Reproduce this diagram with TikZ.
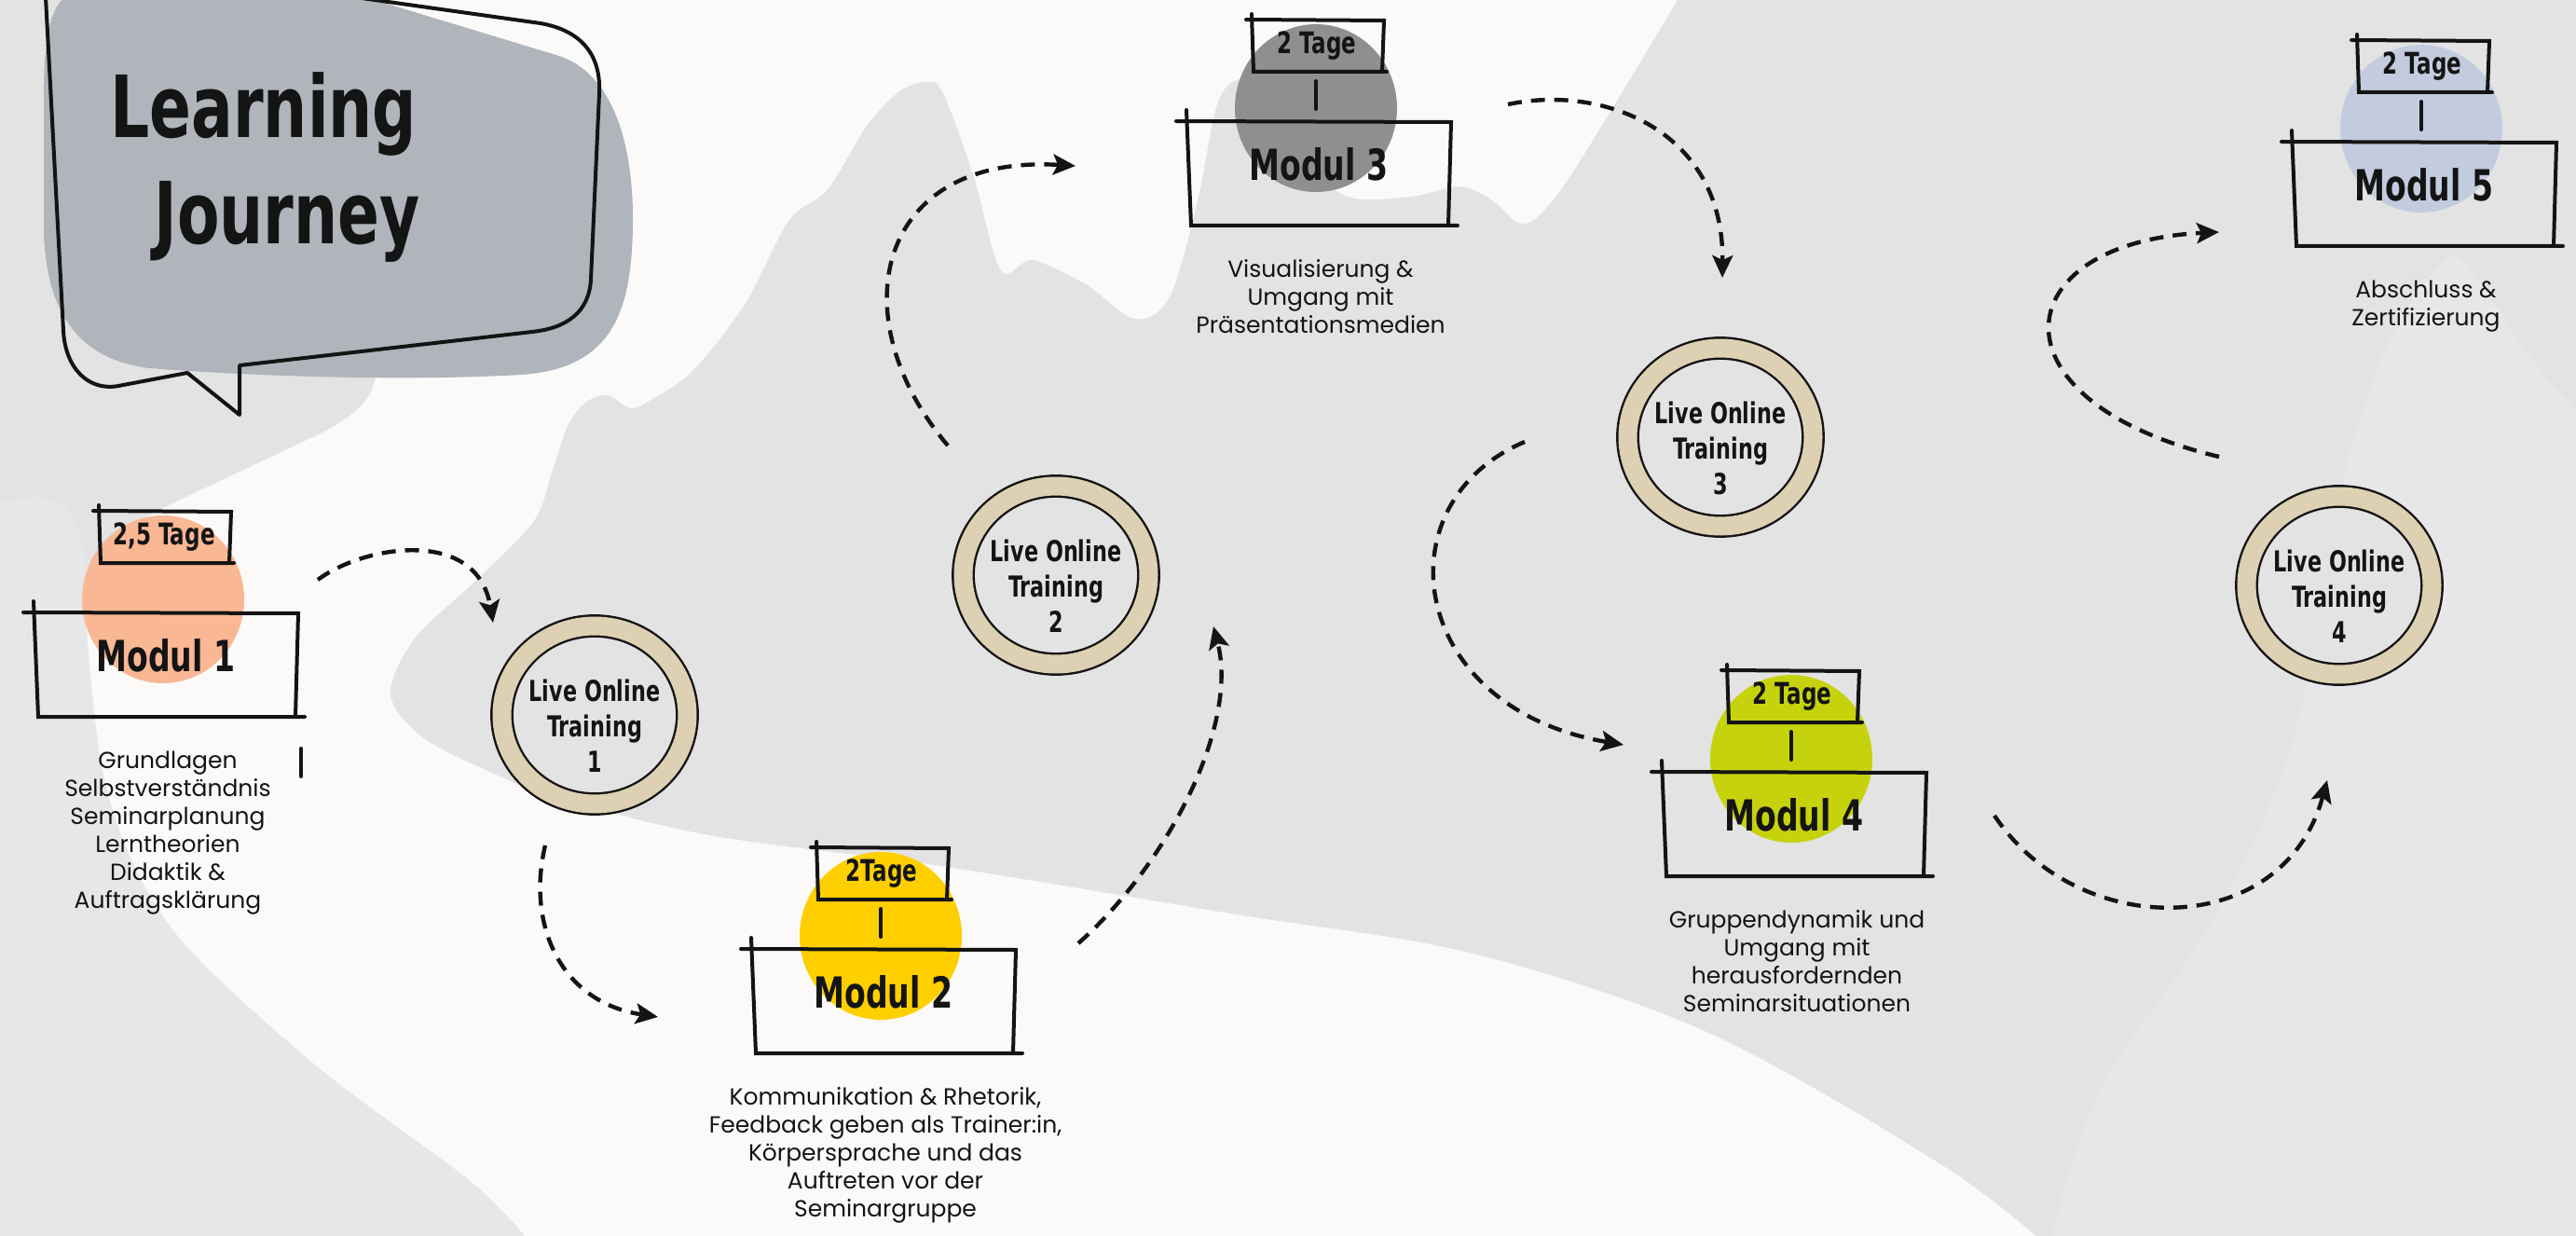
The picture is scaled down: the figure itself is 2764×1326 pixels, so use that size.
\documentclass[tikz,border=0pt]{standalone}
\usepackage{fontspec}
\setmainfont{Poppins}
\newfontfamily\handfont[FakeStretch=0.72]{DejaVu Sans}
\usetikzlibrary{arrows.meta,shapes.geometric,calc}

\definecolor{bggray}{HTML}{E3E3E3}
\definecolor{paper}{HTML}{FBFAF8}
\definecolor{paleright}{HTML}{E7E7E9}
\definecolor{paleleft}{HTML}{E6E7E9}
\definecolor{bubblegray}{HTML}{AFB5BB}
\definecolor{modpeach}{HTML}{F9B794}
\definecolor{modyellow}{HTML}{FFCF00}
\definecolor{modstone}{HTML}{8F8F8F}
\definecolor{modlime}{HTML}{C6D30C}
\definecolor{modsky}{HTML}{C3CCDF}
\definecolor{sand}{HTML}{DDD0B3}
\definecolor{ink}{HTML}{141414}

\tikzset{
  sketchline/.style={ink,line width=2pt,line cap=round},
  flowarrow/.style={ink,line width=2.2pt,dash pattern=on 7.5pt off 5pt,
    -{Stealth[length=12pt,width=11pt,inset=2.5pt]}},
  ringnode/.style={ellipse,draw=ink,line width=1.2pt,double=sand,double distance=10pt,
    fill=bggray,minimum width=99.5pt,minimum height=95.5pt,inner sep=0pt},
  lottext/.style={align=center,inner sep=0pt,text=ink,
    font=\handfont\bfseries\fontsize{15.5}{19}\selectfont},
  modtitle/.style={text=ink,inner sep=0pt,font=\handfont\bfseries\fontsize{23}{26}\selectfont},
  tagetext/.style={text=ink,inner sep=0pt,font=\handfont\bfseries\fontsize{16}{18}\selectfont},
  desctext/.style={align=center,anchor=north,inner sep=0pt,text=ink,
    font=\fontsize{12.5}{15}\selectfont},
  titletext/.style={anchor=base west,inner sep=0pt,text=ink,
    font=\handfont\bfseries\fontsize{46}{50}\selectfont},
}

\begin{document}
\begin{tikzpicture}[x=0.5pt,y=-0.5pt]
  \useasboundingbox (0,0) rectangle (2764,1326);
  \clip (0,0) rectangle (2764,1326);
  % background
  \fill[bggray] (0,0) rectangle (2764,1326);
  \fill[paleleft] (0,540) .. controls (30,530) and (60,530) .. (75,550)
    .. controls (90,575) and (95,610) .. (97,640) -- (95,700)
    -- plot[smooth,tension=.55] coordinates {(95,700) (118,860) (186,998) (338,1142) (507,1269) (575,1340)}
    -- (0,1340) -- cycle;
  \fill[paper] (406,0) -- (1800,0)
    -- plot[smooth,tension=.55] coordinates {(1800,0) (1700,165) (1660,222) (1632,240)
      (1600,214) (1566,200) (1520,210) (1470,214) (1440,208) (1395,175) (1350,100)
      (1326,86) (1305,115) (1285,215) (1255,318) (1218,342) (1165,305) (1108,279)
      (1074,290) (1045,190) (1012,100) (994,88) (965,98) (930,135) (888,203) (846,237)
      (800,325) (744,397) (700,428) (677,438) (652,424) (628,432) (609,457) (592,507)
      (572,560) (507,626) (445,685) (419,745) (455,792) (530,830) (592,854) (761,896)
      (1015,930) (1326,981) (1580,1023) (1833,1108) (2087,1252) (2200,1340)}
    -- (575,1340)
    -- plot[smooth,tension=.55] coordinates {(575,1340) (507,1269) (338,1142) (186,998)
      (118,860) (95,700) (97,630) (125,575) (200,533)}
    -- (340,467) .. controls (380,447) and (400,430) .. (404,400) -- (406,390) -- cycle;
  \fill[paleright] (2633,271) .. controls (2670,300) and (2700,380) .. (2764,440)
    -- (2764,1340) -- (2200,1340) .. controls (2230,1180) and (2280,1120) .. (2320,1070)
    .. controls (2420,930) and (2470,800) .. (2490,650)
    .. controls (2510,480) and (2560,330) .. (2633,271) -- cycle;

  % speech bubble
  \fill[bubblegray] (67,0) -- (402,0) -- (600,60) .. controls (660,80) and (680,160) .. (679,240)
    .. controls (678,330) and (660,395) .. (560,402) .. controls (420,410) and (250,402) .. (160,395)
    .. controls (80,385) and (50,330) .. (47,250) -- (47,100) .. controls (47,40) and (55,10) .. (67,0) -- cycle;
  \draw[sketchline,line cap=butt,line join=round] (381,-3) -- (580,25)
    .. controls (625,33) and (645,60) .. (643,100) -- (634,300)
    .. controls (632,335) and (608,352) .. (571,356) -- (257,392) -- (257,445) -- (201,400)
    -- (127,414) .. controls (95,420) and (70,395) .. (68,355) -- (49,-3);
  \node[titletext] (title1) at (118,148) {Learning};
  \node[titletext] (title2) at (165,262) {Journey};

  % modules
  \foreach \cx/\cy/\col/\n/\tage in {175/643/modpeach/1/{2,5 Tage},945/1004/modyellow/2/2Tage,
      1412/116/modstone/3/2 Tage,1922/814/modlime/4/2 Tage,2598/138/modsky/5/2 Tage}{
    \begin{scope}[shift={(\cx,\cy)}]
      \coordinate (c\n) at (0,0);
      \fill[\col] (0,0) ellipse [x radius=87,y radius=90];
      \draw[sketchline] (-75,-95) -- (73,-94) -- (71,-39);
      \draw[sketchline] (-69,-101) -- (-67,-39) -- (76,-39);
      \draw[sketchline] (-150,14) -- (145,15) -- (142,126);
      \draw[sketchline] (-139,2) -- (-134,126) -- (152,126);
      \node[tagetext] (t\n) at (1,-67) {\tage};
      \node[modtitle] (m\n) at (3,60) {Modul \n};
    \end{scope}
  }
  \foreach \n in {2,...,5}
    \draw[sketchline] ($(c\n)+(0,-29)$) -- ($(c\n)+(0,1)$);
  \draw[sketchline] (323,803) -- (323,833);

  \node[desctext] (d1) at (180,806) {Grundlagen\\Selbstverständnis\\Seminarplanung\\Lerntheorien\\Didaktik \&\\Auftragsklärung};
  \node[desctext] (d2) at (950,1166) {Kommunikation \& Rhetorik,\\Feedback geben als Trainer:in,\\Körpersprache und das\\Auftreten vor der\\Seminargruppe};
  \node[desctext] (d3) at (1417,278) {Visualisierung \&\\Umgang mit\\Präsentationsmedien};
  \node[desctext] (d4) at (1928,976) {Gruppendynamik und\\Umgang mit\\herausfordernden\\Seminarsituationen};
  \node[desctext] (d5) at (2603,301) {Abschluss \&\\Zertifizierung};

  % live online trainings
  \foreach \x/\y/\n in {638/767/1,1133/617/2,1846/469/3,2510/628/4}{
    \node[ringnode] (l\n) at (\x,\y) {};
    \node[lottext] (w\n) at ($(l\n)+(0,12)$) {Live Online\\Training\\\n};
  }

  % path
  \coordinate (a1s) at (341,622);   \coordinate (a1e) at (529,668);
  \coordinate (a2s) at (585,907);   \coordinate (a2e) at (706,1091);
  \coordinate (a3s) at (1157,1012); \coordinate (a3e) at (1302,672);
  \coordinate (a4s) at (1017,478);  \coordinate (a4e) at (1154,178);
  \coordinate (a5s) at (1618,112);  \coordinate (a5e) at (1848,298);
  \coordinate (a6s) at (1636,474);  \coordinate (a6e) at (1742,799);
  \coordinate (a7s) at (2140,875);  \coordinate (a7e) at (2497,837);
  \coordinate (a8s) at (2381,490);  \coordinate (a8e) at (2381,249);
  \draw[flowarrow] (a1s) .. controls (390,585) and (512,565) .. (a1e);
  \draw[flowarrow] (a2s) .. controls (565,990) and (600,1075) .. (a2e);
  \draw[flowarrow] (a3s) .. controls (1250,930) and (1330,780) .. (a3e);
  \draw[flowarrow] (a4s) .. controls (900,340) and (940,165) .. (a4e);
  \draw[flowarrow] (a5s) .. controls (1720,90) and (1850,140) .. (a5e);
  \draw[flowarrow] (a6s) .. controls (1480,540) and (1510,760) .. (a6e);
  \draw[flowarrow] (a7s) .. controls (2230,1010) and (2450,1010) .. (a7e);
  \draw[flowarrow] (a8s) .. controls (2130,430) and (2150,260) .. (a8e);
\end{tikzpicture}
\end{document}
